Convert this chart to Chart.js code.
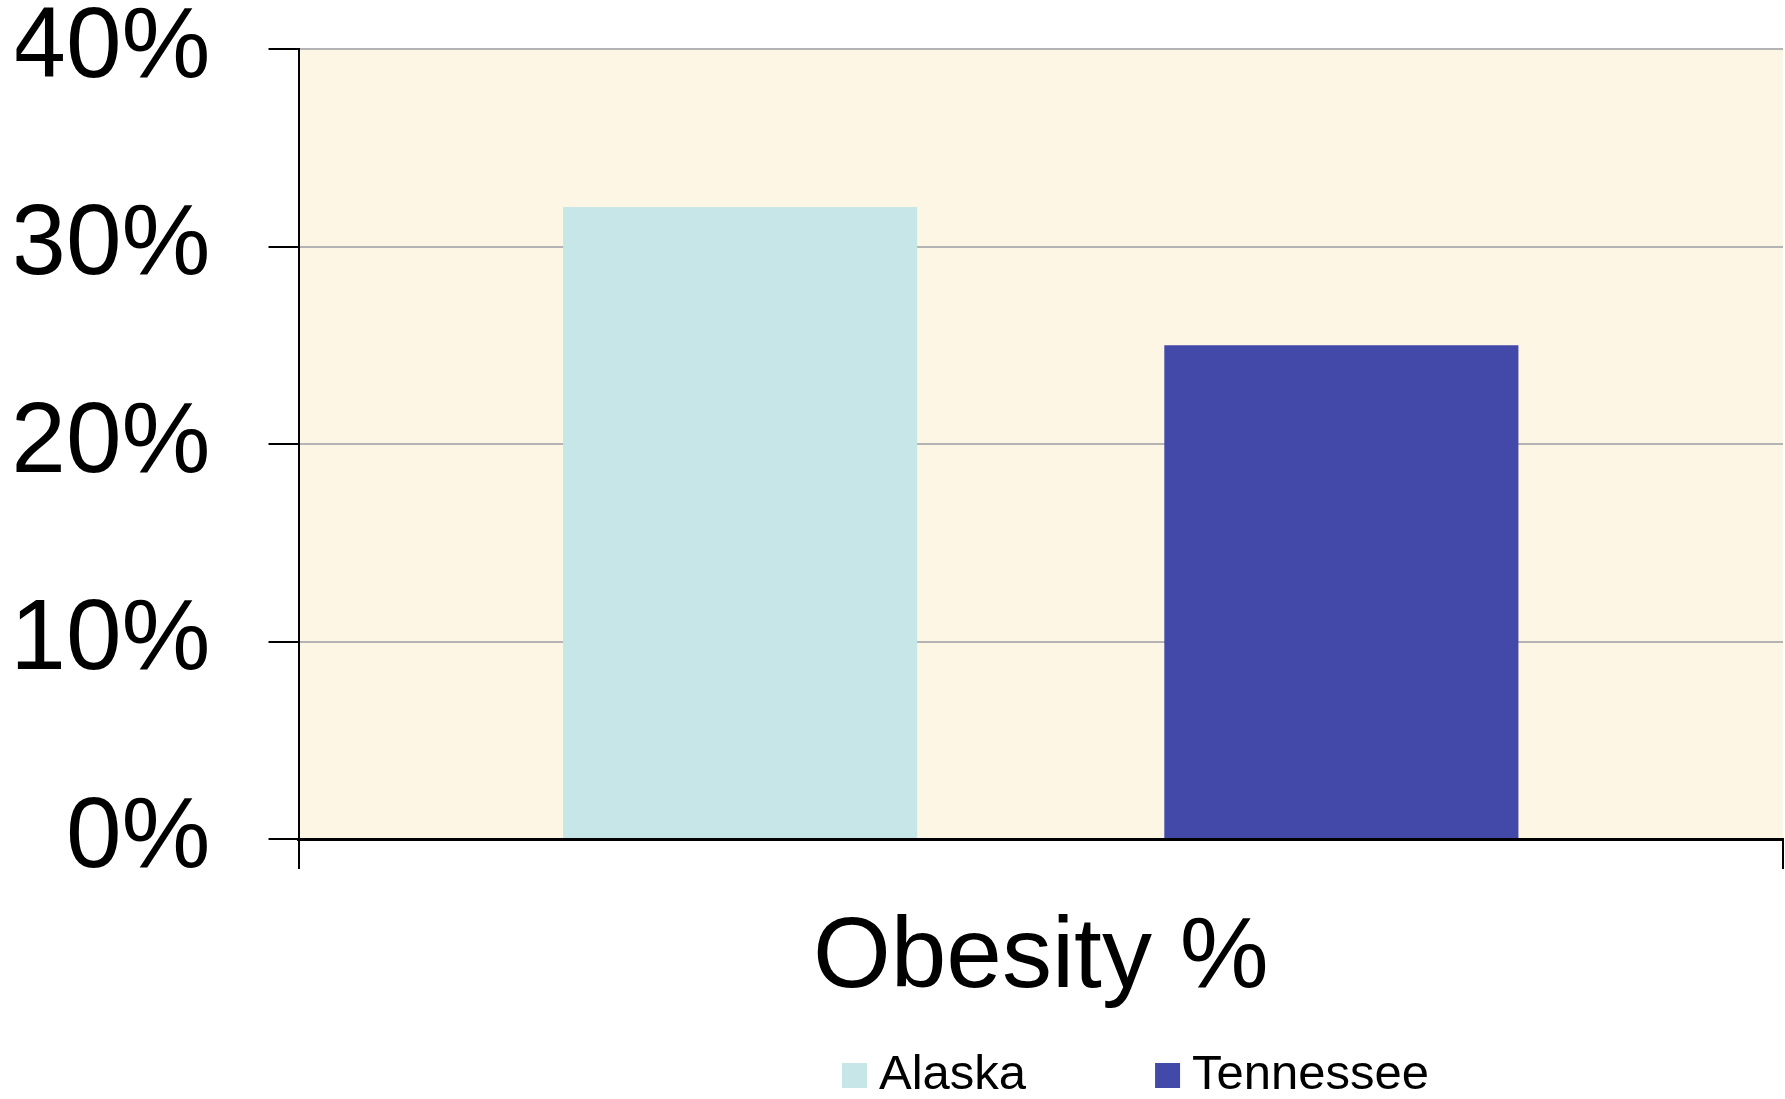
<!DOCTYPE html>
<html>
<head>
<meta charset="utf-8">
<title>Obesity %</title>
<script src="https://cdn.jsdelivr.net/npm/chart.js@4/dist/chart.umd.min.js"></script>
<style>
  html, body { margin: 0; padding: 0; background: #fff; }
  #wrap { width: 1785px; height: 1099px; position: relative; }
</style>
</head>
<body>
<div id="wrap"><canvas id="chart"></canvas></div>
<script>
const categories = ["Obesity %"];
const seriesNames = ["Alaska", "Tennessee"];
const alaskaValues = [32];
const tennesseeValues = [25];
const yTicks = [0, 10, 20, 30, 40];
const seriesColors = ["#c6e6e8", "#4349a9"];

const FONT = "'Liberation Sans', Arial, sans-serif";

// cream plot background
const plotBg = {
  id: "plotBg",
  beforeDraw(chart) {
    const { ctx, chartArea: a } = chart;
    ctx.save();
    ctx.fillStyle = "#fef6e4";
    ctx.fillRect(a.left, a.top, a.right - a.left, a.bottom - a.top);
    ctx.restore();
  }
};

// legend row under the axis label
const legendRow = {
  id: "legendRow",
  afterDraw(chart) {
    const ctx = chart.ctx;
    const box = 25;
    let x = 842;
    const y = 1063;
    ctx.save();
    ctx.font = "49px " + FONT;
    ctx.textBaseline = "middle";
    chart.data.datasets.forEach(ds => {
      ctx.fillStyle = ds.backgroundColor;
      ctx.fillRect(x, y, box, box);
      ctx.fillStyle = "#000";
      ctx.fillText(ds.label, x + box + 12, y + box / 2);
      x += box + 12 + ctx.measureText(ds.label).width + 129;
    });
    ctx.restore();
  }
};

const ctx = document.getElementById("chart");

new Chart(ctx, {
  type: "bar",
  data: {
    labels: categories,
    datasets: [
      { label: seriesNames[0], data: alaskaValues, backgroundColor: seriesColors[0] },
      { label: seriesNames[1], data: tennesseeValues, backgroundColor: seriesColors[1] }
    ]
  },
  options: {
    responsive: true,
    maintainAspectRatio: false,
    animation: false,
    devicePixelRatio: 1,
    categoryPercentage: 0.81,
    barPercentage: 0.589,
    layout: { padding: { left: 16.5, right: 2, top: 49, bottom: 80 } },
    plugins: {
      legend: { display: false },
      tooltip: { enabled: false }
    },
    scales: {
      x: {
        afterFit(scale) {
          scale.height = 180;
          scale.paddingLeft = 0;
          scale.paddingRight = 0;
        },
        grid: {
          display: true,
          drawOnChartArea: false,
          color: "#000",
          tickColor: "#000",
          tickLength: 30,
          lineWidth: 2
        },
        border: { color: "#000", width: 3 },
        ticks: {
          color: "#000",
          padding: 30,
          font: { family: FONT, size: 100 }
        }
      },
      y: {
        min: 0,
        max: 40,
        afterBuildTicks(scale) {
          scale.ticks = yTicks.map(v => ({ value: v }));
        },
        afterFit(scale) {
          scale.width = 282;
          scale.paddingTop = 0;
          scale.paddingBottom = 0;
        },
        grid: {
          color: "#b4b4b4",
          tickColor: "#000",
          tickLength: 30,
          lineWidth: 2
        },
        border: { color: "#000", width: 2 },
        ticks: {
          color: "#000",
          padding: 58,
          font: { family: FONT, size: 100, lineHeight: 1 },
          callback: v => v + "%"
        }
      }
    }
  },
  plugins: [plotBg, legendRow]
});
</script>
</body>
</html>
